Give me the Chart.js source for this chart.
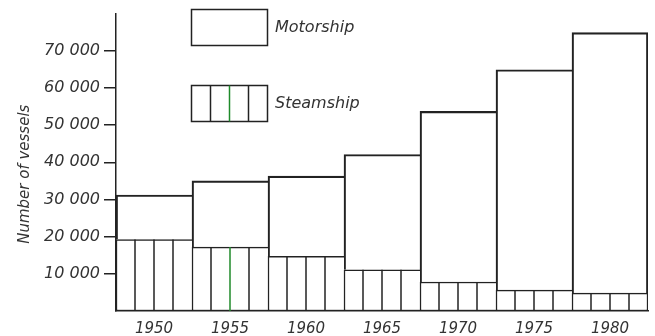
<!DOCTYPE html>
<html>
<head>
<meta charset="utf-8">
<script src="https://cdn.jsdelivr.net/npm/chart.js@4.4.1/dist/chart.umd.min.js"></script>
<style>
  html, body { margin: 0; padding: 0; background: #fff; }
  #wrap { width: 655px; height: 336px; }
</style>
</head>
<body>
<div id="wrap"><canvas id="myChart"></canvas></div>
<script>
// values (number of vessels)
var years = ['1950', '1955', '1960', '1965', '1970', '1975', '1980'];
var steamship = [19200, 17200, 14700, 11100, 7800, 5600, 4800];
var motorship = [12000, 17800, 21600, 31000, 45900, 59300, 70100];
var yTicks = [10000, 20000, 30000, 40000, 50000, 60000, 70000];

var ink = '#222';
var textInk = '#333';
var green = '#1f8a2a';
var lw = 1.5;
var font = { family: 'DejaVu Sans', style: 'italic', size: 15 };

// adjacent bars share their edges, so only the last one keeps its right side
function edges(skipBottom) {
  return function (c) {
    var last = c.dataIndex === years.length - 1;
    return { left: lw, top: lw, right: last ? lw : 0, bottom: skipBottom ? 0 : lw };
  };
}

// vertical hatching of the steamship bars (4 strips each)
var hatch = {
  id: 'hatch',
  afterDatasetsDraw: function (chart) {
    var ctx = chart.ctx;
    var meta = chart.getDatasetMeta(0);
    ctx.save();
    ctx.lineWidth = lw;
    meta.data.forEach(function (bar, i) {
      var p = bar.getProps(['x', 'y', 'base', 'width'], true);
      var left = p.x - p.width / 2;
      for (var k = 1; k < 4; k++) {
        ctx.strokeStyle = (i === 1 && k === 2) ? green : ink;
        ctx.beginPath();
        ctx.moveTo(left + p.width * k / 4, p.y);
        ctx.lineTo(left + p.width * k / 4, p.base);
        ctx.stroke();
      }
    });
    ctx.restore();
  }
};

// the two boxes of the key
var key = {
  id: 'key',
  afterDraw: function (chart) {
    var ctx = chart.ctx;
    ctx.save();
    ctx.lineWidth = lw;
    ctx.strokeStyle = ink;
    ctx.strokeRect(191.5, 9.5, 76, 36);
    ctx.strokeRect(191.5, 85.5, 76, 36);
    for (var k = 1; k < 4; k++) {
      ctx.strokeStyle = k === 2 ? green : ink;
      ctx.beginPath();
      ctx.moveTo(191.5 + 19 * k, 85.5);
      ctx.lineTo(191.5 + 19 * k, 121.5);
      ctx.stroke();
    }
    ctx.fillStyle = textInk;
    ctx.font = 'italic 16px "DejaVu Sans"';
    ctx.textBaseline = 'middle';
    ctx.fillText('Motorship', 275, 28);
    ctx.fillText('Steamship', 275, 104);
    ctx.restore();
  }
};

var ctx = document.getElementById('myChart').getContext('2d');
var myChart = new Chart(ctx, {
  type: 'bar',
  data: {
    labels: years,
    datasets: [{
      label: 'Steamship',
      data: steamship,
      backgroundColor: '#fff',
      borderColor: ink,
      borderWidth: edges(false),
      borderSkipped: false,
      categoryPercentage: 1,
      barPercentage: 1
    }, {
      label: 'Motorship',
      data: motorship,
      backgroundColor: 'rgba(255,255,255,0)',
      borderColor: ink,
      borderWidth: edges(true),
      borderSkipped: false,
      categoryPercentage: 1,
      barPercentage: 1
    }]
  },
  options: {
    responsive: true,
    maintainAspectRatio: false,
    animation: false,
    layout: { padding: { left: 0, right: 7, top: 9, bottom: 0 } },
    plugins: {
      legend: { display: false },
      tooltip: { enabled: false }
    },
    scales: {
      x: {
        stacked: true,
        grid: { display: true, drawOnChartArea: false, drawTicks: false },
        border: { display: true, color: ink, width: lw },
        ticks: { font: font, color: textInk, padding: 9 },
        afterFit: function (s) { s.height = 25; }
      },
      y: {
        stacked: true,
        min: 0,
        max: 80000,
        afterBuildTicks: function (s) {
          s.ticks = yTicks.map(function (v) { return { value: v }; });
        },
        grid: {
          drawOnChartArea: false,
          drawTicks: true,
          tickLength: 12,
          color: ink,
          tickColor: ink,
          lineWidth: lw
        },
        border: { display: true, color: ink, width: lw },
        ticks: {
          font: { family: 'DejaVu Sans', style: 'italic', size: 16 },
          color: textInk,
          padding: 4,
          callback: function (v) { return (v / 1000) + ' 000'; }
        },
        title: {
          display: true,
          text: 'Number of vessels\u00a0\u00a0\u00a0\u00a0\u00a0',
          font: font,
          color: textInk,
          padding: { top: 16, bottom: 0 }
        },
        afterFit: function (s) { s.width = 116; }
      }
    }
  },
  plugins: [hatch, key]
});
</script>
</body>
</html>
